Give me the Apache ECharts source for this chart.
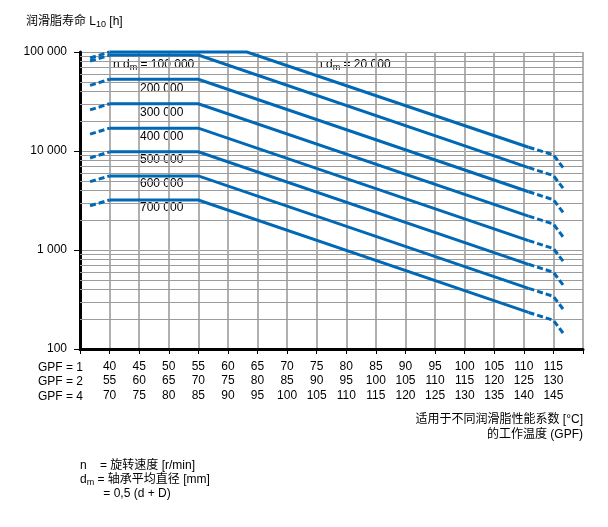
<!DOCTYPE html>
<html>
<head>
<meta charset="utf-8">
<script src="https://cdn.jsdelivr.net/npm/echarts@6/dist/echarts.min.js"></script>
<style>
html,body{margin:0;padding:0;background:#fff;}
#chart{width:608px;height:527px;}
</style>
</head>
<body>
<div id="chart"></div>
<script>
// ---- data (temperature for GPF = 1 in °C, grease life L10 in h) ----
const curveLabels = ['20 000', '100 000', '200 000', '300 000', '400 000', '500 000', '600 000', '700 000'];
const temps20k   = [36.7, 40, 63.2, 110.8, 115, 116.7];
const tempsOther = [36.7, 40, 55, 110.8, 115, 116.7];
const life20k  = [87000, 100000, 100000, 10900, 9150, 6700];
const life100k = [81000, 93000, 93000, 6800, 5650, 4150];
const life200k = [46000, 53000, 53000, 3880, 3220, 2370];
const life300k = [26000, 30000, 30000, 2200, 1830, 1340];
const life400k = [14800, 17000, 17000, 1245, 1035, 760];
const life500k = [8500, 9800, 9800, 717, 596, 437];
const life600k = [4900, 5600, 5600, 410, 340, 250];
const life700k = [2800, 3200, 3200, 234, 195, 143];

// tick labels
const gpf1Labels = ['40','45','50','55','60','65','70','75','80','85','90','95','100','105','110','115'];
const gpf2Labels = ['55','60','65','70','75','80','85','90','95','100','105','110','115','120','125','130'];
const gpf4Labels = ['70','75','80','85','90','95','100','105','110','115','120','125','130','135','140','145'];
const yTickLabels = ['100', '1 000', '10 000', '100 000'];
const minorGridValues = [200,300,400,500,600,700,800,900,2000,3000,4000,5000,6000,7000,8000,9000,20000,30000,40000,50000,60000,70000,80000,90000];

const FONT = "'Liberation Sans', Arial, 'Noto Sans CJK SC', sans-serif";
const BLUE = '#0068b4';

const curves = [
  {t: temps20k, v: life20k},
  {t: tempsOther, v: life100k},
  {t: tempsOther, v: life200k},
  {t: tempsOther, v: life300k},
  {t: tempsOther, v: life400k},
  {t: tempsOther, v: life500k},
  {t: tempsOther, v: life600k},
  {t: tempsOther, v: life700k}
];

const series = [];
curves.forEach((c, i) => {
  const pts = c.t.map((t, k) => [t, c.v[k]]);
  const base = {type: 'line', showSymbol: false, symbol: 'none', clip: false, z: 3, silent: true, animation: false};
  series.push(Object.assign({}, base, {
    name: curveLabels[i] + ' a', data: pts.slice(0, 2),
    lineStyle: {color: BLUE, width: 3, type: [6, 3], cap: 'butt'}
  }));
  series.push(Object.assign({}, base, {
    name: curveLabels[i] + ' b', data: pts.slice(1, 4),
    lineStyle: {color: BLUE, width: 3, type: 'solid', join: 'miter'}
  }));
  series.push(Object.assign({}, base, {
    name: curveLabels[i] + ' c', data: pts.slice(3, 6),
    lineStyle: {color: BLUE, width: 3, type: [6, 3], cap: 'butt'}
  }));
});
// minor log grid lines
series.push({
  type: 'line', data: [], silent: true, animation: false, z: 1,
  markLine: {
    silent: true, animation: false, z: 1, symbol: ['none', 'none'],
    label: {show: false},
    lineStyle: {color: '#9c9c9c', width: 1, type: 'solid'},
    data: minorGridValues.map(v => ({yAxis: v}))
  }
});

const chart = echarts.init(document.getElementById('chart'), null, {renderer: 'canvas'});
chart.setOption({
  animation: false,
  backgroundColor: '#fff',
  textStyle: {fontFamily: FONT},
  grid: {left: 80, top: 52, right: 25, bottom: 178, containLabel: false},
  xAxis: {
    type: 'value', min: 35, max: 120, interval: 5,
    axisLine: {show: true, onZero: false, lineStyle: {color: '#000', width: 3}},
    axisTick: {show: true, length: 5, lineStyle: {color: '#000', width: 1}},
    splitLine: {show: true, lineStyle: {color: '#b0b0b0', width: 2}},
    axisLabel: {
      margin: 10, color: '#000', fontSize: 12, fontFamily: FONT, lineHeight: 14.5,
      showMinLabel: true, showMaxLabel: true,
      formatter: function (v) {
        const i = Math.round((v - 40) / 5);
        if (i < 0 || i >= gpf1Labels.length) return '';
        return gpf1Labels[i] + '\n' + gpf2Labels[i] + '\n' + gpf4Labels[i];
      }
    }
  },
  yAxis: {
    type: 'log', logBase: 10, min: 100, max: 100000,
    axisLine: {show: true, lineStyle: {color: '#000', width: 3}},
    axisTick: {show: true, length: 6, lineStyle: {color: '#000', width: 1}},
    splitLine: {show: true, lineStyle: {color: '#9c9c9c', width: 1}},
    axisLabel: {
      margin: 13, color: '#000', fontSize: 12, fontFamily: FONT,
      formatter: function (v) {
        const i = Math.round(Math.log10(v)) - 2;
        return yTickLabels[i] || '';
      }
    }
  },
  graphic: [
    {type: 'text', left: 26, top: 16, silent: true, style: {
      text: '润滑脂寿命 L{sub|10} [h]', fill: '#000', font: '12px ' + FONT,
      rich: {sub: {fontSize: 9, verticalAlign: 'bottom', padding: [6, 0, 0, 0], fontFamily: FONT}}
    }},
    {type: 'text', left: 38, top: 360, silent: true, style: {
      text: 'GPF = 1\nGPF = 2\nGPF = 4', fill: '#000', font: '12px ' + FONT, lineHeight: 14.5
    }},
    {type: 'text', left: 113, top: 59, silent: true, style: {
      text: 'n d{sub|m} = ' + curveLabels[1], fill: '#000', font: '12px ' + FONT,
      rich: {sub: {fontSize: 9, padding: [6, 0, 0, 0], fontFamily: FONT}}
    }},
    {type: 'text', left: 316, top: 59, silent: true, style: {
      text: 'n d{sub|m} = ' + curveLabels[0], fill: '#000', font: '12px ' + FONT,
      rich: {sub: {fontSize: 9, padding: [6, 0, 0, 0], fontFamily: FONT}}
    }},
    {type: 'text', left: 140, top: 83, silent: true, style: {text: curveLabels[2], fill: '#000', font: '12px ' + FONT}},
    {type: 'text', left: 140, top: 106.5, silent: true, style: {text: curveLabels[3], fill: '#000', font: '12px ' + FONT}},
    {type: 'text', left: 140, top: 130.5, silent: true, style: {text: curveLabels[4], fill: '#000', font: '12px ' + FONT}},
    {type: 'text', left: 140, top: 154, silent: true, style: {text: curveLabels[5], fill: '#000', font: '12px ' + FONT}},
    {type: 'text', left: 140, top: 177.5, silent: true, style: {text: curveLabels[6], fill: '#000', font: '12px ' + FONT}},
    {type: 'text', left: 140, top: 202, silent: true, style: {text: curveLabels[7], fill: '#000', font: '12px ' + FONT}},
    {type: 'text', x: 583, y: 414, silent: true, style: {
      text: '适用于不同润滑脂性能系数 [°C]', fill: '#000', font: '12px ' + FONT,
      align: 'right', verticalAlign: 'top'
    }},
    {type: 'text', x: 583, y: 428.5, silent: true, style: {
      text: '的工作温度 (GPF)', fill: '#000', font: '12px ' + FONT,
      align: 'right', verticalAlign: 'top'
    }},
    {type: 'text', left: 80, top: 459, silent: true, style: {
      text: 'n    = 旋转速度 [r/min]\nd{sub|m} = 轴承平均直径 [mm]\n       = 0,5 (d + D)', fill: '#000', font: '12px ' + FONT,
      lineHeight: 14,
      rich: {sub: {fontSize: 9, padding: [6, 0, 0, 0], fontFamily: FONT}}
    }}
  ],
  series: series
});
</script>
</body>
</html>
